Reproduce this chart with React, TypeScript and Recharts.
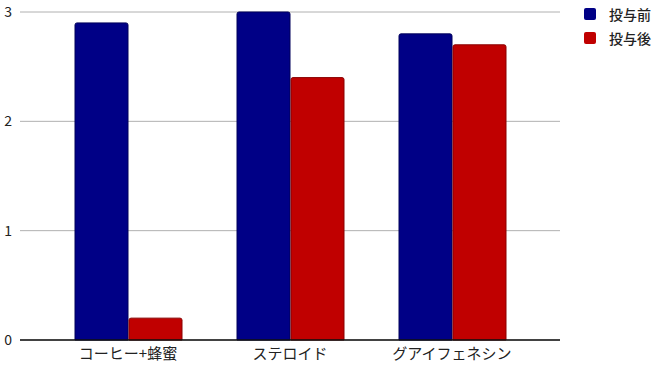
import React from "react";
import { BarChart, Bar, XAxis, YAxis, CartesianGrid } from "recharts";

const categories = ["コーヒー+蜂蜜", "ステロイド", "グアイフェネシン"];
const beforeValues = [2.9, 3.0, 2.8];
const afterValues = [0.2, 2.4, 2.7];
const yTicks = [0, 1, 2, 3];

const seriesNames = { before: "投与前", after: "投与後" };
const colors = { before: "#000086", after: "#c00000" };

const data = categories.map((name, i) => ({
  name,
  before: beforeValues[i],
  after: afterValues[i],
}));

const font = "'Noto Sans CJK JP', 'Noto Sans', sans-serif";

// legend drawn outside the svg so it doesn't eat into the plot width
const LegendBox = () => (
  <div
    style={{
      position: "absolute",
      left: 584,
      top: 2,
      fontFamily: font,
      fontSize: 14,
      fontWeight: 500,
      color: "#222",
    }}
  >
    {(["before", "after"] as const).map((k) => (
      <div key={k} style={{ display: "flex", alignItems: "center", height: 24 }}>
        <span
          style={{
            width: 12,
            height: 12,
            background: colors[k],
            borderRadius: 2,
            marginRight: 13,
            display: "inline-block",
          }}
        />
        {seriesNames[k]}
      </div>
    ))}
  </div>
);

export default function App() {
  return (
    <div style={{ position: "absolute", left: 0, top: 0, width: 656, height: 368, background: "#fff" }}>
      <BarChart
        width={656}
        height={368}
        data={data}
        margin={{ top: 12, right: 96, left: 0, bottom: 0 }}
        barGap={1}
        barCategoryGap={28}
      >
        <CartesianGrid vertical={false} stroke="#b0b0b0" />
        <XAxis
          dataKey="name"
          height={28}
          padding={{ left: 27, right: 27 }}
          tickLine={false}
          axisLine={{ stroke: "#111", strokeWidth: 1.5 }}
          tick={{ fill: "#222", fontSize: 15, fontFamily: font }}
        />
        <YAxis
          width={20}
          domain={[0, 3]}
          ticks={yTicks}
          tickLine={false}
          axisLine={false}
          tick={{ fill: "#222", fontSize: 14, fontFamily: font }}
        />
        <Bar
          dataKey="before"
          name={seriesNames.before}
          fill={colors.before}
          stroke="#00005a"
          radius={[2, 2, 0, 0]}
          isAnimationActive={false}
        />
        <Bar
          dataKey="after"
          name={seriesNames.after}
          fill={colors.after}
          stroke="#8a0000"
          radius={[2, 2, 0, 0]}
          isAnimationActive={false}
        />
      </BarChart>
      <LegendBox />
    </div>
  );
}
